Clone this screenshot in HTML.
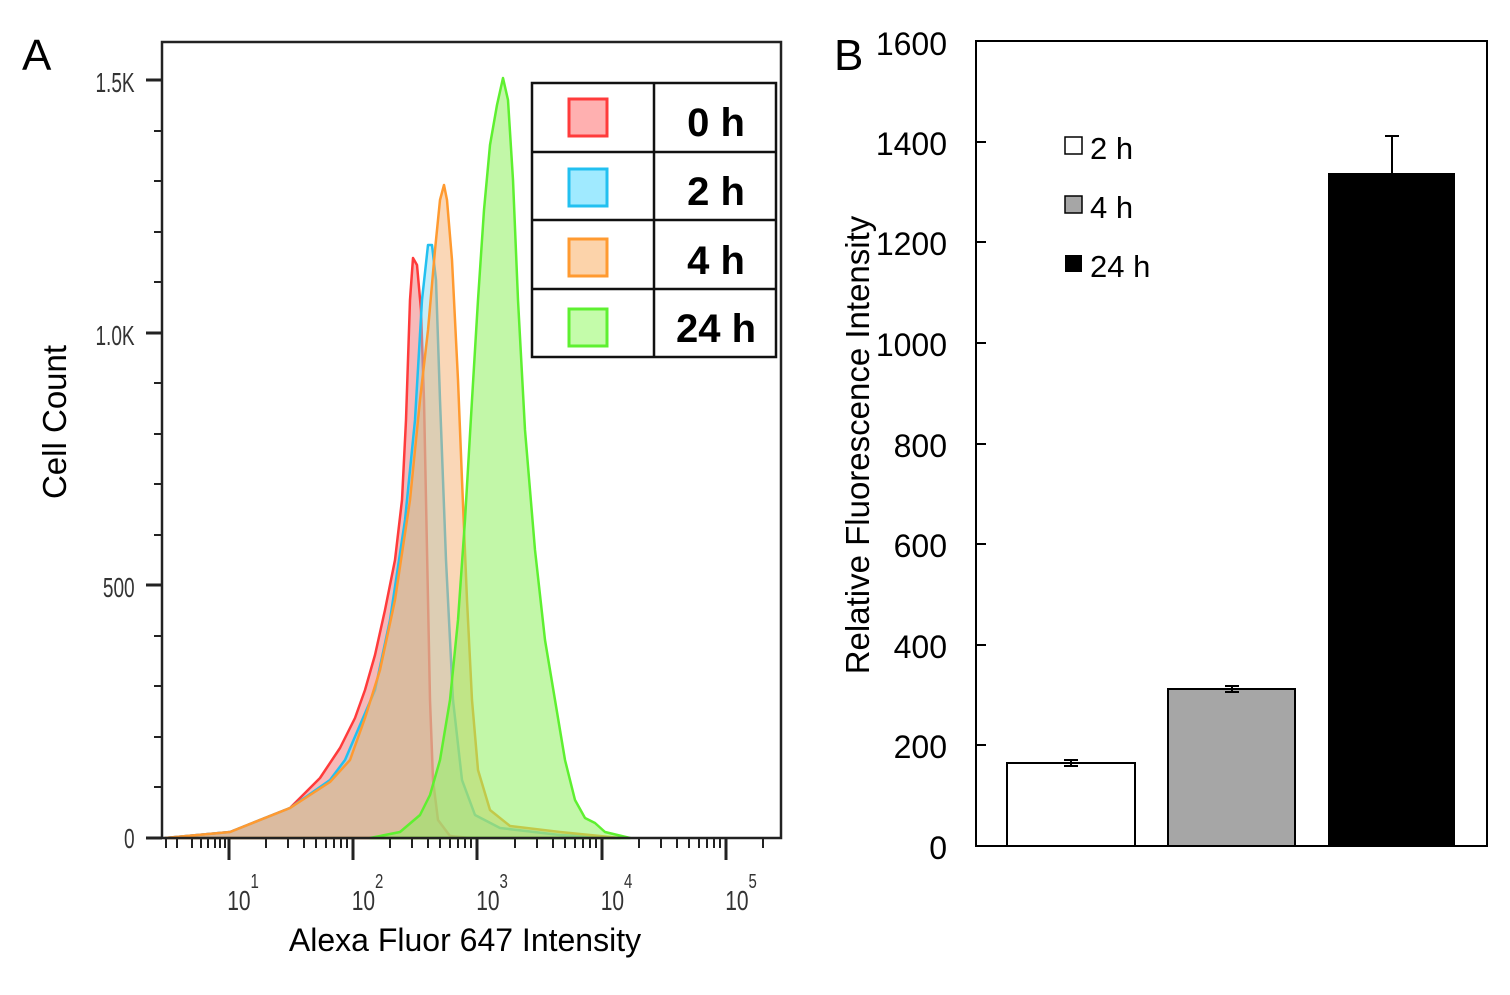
<!DOCTYPE html><html><head><style>body{margin:0;background:#fff}</style></head><body>
<svg width="1510" height="990" xmlns="http://www.w3.org/2000/svg" font-family="Liberation Sans, sans-serif">
<rect width="1510" height="990" fill="#fff"/>
<text x="22" y="70" font-size="44">A</text>
<text x="834" y="70" font-size="44">B</text>
<g stroke-width="2.5" stroke-linejoin="round">
<polygon fill="#f08080" fill-opacity="0.55" stroke="#ff3b3b" points="165,838 230,832 290,808 320,778 340,748 355,718 365,690 375,655 385,610 395,560 402,500 406,420 410,300 413,258 417,265 421,310 424,400 427,550 430,700 433,780 438,820 450,836 470,838"/>
<polygon fill="#7fd8f0" fill-opacity="0.45" stroke="#22c0f0" points="165,838 230,832 290,808 330,780 345,760 360,725 375,690 390,620 405,520 415,420 422,300 428,245 432,245 436,280 440,400 446,560 453,700 462,780 475,815 500,828 560,835 620,838"/>
<polygon fill="#f5b070" fill-opacity="0.5" stroke="#ff9a30" points="165,838 230,832 290,808 330,782 350,760 365,718 380,670 395,600 410,500 420,400 428,330 435,250 440,200 444,185 447,200 452,260 458,380 462,480 467,600 472,700 478,770 490,810 510,826 560,832 620,838"/>
<polygon fill="#90f060" fill-opacity="0.55" stroke="#5ef030" points="370,838 400,832 420,815 430,795 440,760 450,700 458,620 465,520 472,400 478,300 484,210 490,145 497,105 503,78 508,100 513,180 518,300 525,430 535,550 545,640 555,700 565,760 575,800 585,818 595,823 605,832 630,838"/>
</g>
<rect x="162" y="42" width="619" height="796" fill="none" stroke="#222" stroke-width="2.5"/>
<g stroke="#222" stroke-width="3">
<line x1="146" y1="838" x2="162" y2="838"/><line x1="146" y1="585" x2="162" y2="585"/><line x1="146" y1="333" x2="162" y2="333"/><line x1="146" y1="80" x2="162" y2="80"/>
</g>
<g stroke="#222" stroke-width="2">
<line x1="154" y1="787" x2="162" y2="787"/><line x1="154" y1="737" x2="162" y2="737"/><line x1="154" y1="686" x2="162" y2="686"/><line x1="154" y1="636" x2="162" y2="636"/>
<line x1="154" y1="535" x2="162" y2="535"/><line x1="154" y1="484" x2="162" y2="484"/><line x1="154" y1="434" x2="162" y2="434"/><line x1="154" y1="383" x2="162" y2="383"/>
<line x1="154" y1="282" x2="162" y2="282"/><line x1="154" y1="232" x2="162" y2="232"/><line x1="154" y1="181" x2="162" y2="181"/><line x1="154" y1="131" x2="162" y2="131"/>
</g>
<g stroke="#222" stroke-width="3">
<line x1="229" y1="838" x2="229" y2="860"/><line x1="353" y1="838" x2="353" y2="860"/><line x1="477" y1="838" x2="477" y2="860"/><line x1="602" y1="838" x2="602" y2="860"/><line x1="726" y1="838" x2="726" y2="860"/>
</g>
<g stroke="#222" stroke-width="2">
<line x1="166" y1="838" x2="166" y2="848"/><line x1="177" y1="838" x2="177" y2="848"/><line x1="192" y1="838" x2="192" y2="848"/><line x1="201" y1="838" x2="201" y2="848"/><line x1="208" y1="838" x2="208" y2="848"/><line x1="215" y1="838" x2="215" y2="848"/><line x1="220" y1="838" x2="220" y2="848"/><line x1="225" y1="838" x2="225" y2="848"/>
<line x1="266" y1="838" x2="266" y2="848"/><line x1="288" y1="838" x2="288" y2="848"/><line x1="304" y1="838" x2="304" y2="848"/><line x1="316" y1="838" x2="316" y2="848"/><line x1="326" y1="838" x2="326" y2="848"/><line x1="334" y1="838" x2="334" y2="848"/><line x1="341" y1="838" x2="341" y2="848"/><line x1="347" y1="838" x2="347" y2="848"/>
<line x1="390" y1="838" x2="390" y2="848"/><line x1="412" y1="838" x2="412" y2="848"/><line x1="428" y1="838" x2="428" y2="848"/><line x1="440" y1="838" x2="440" y2="848"/><line x1="450" y1="838" x2="450" y2="848"/><line x1="458" y1="838" x2="458" y2="848"/><line x1="465" y1="838" x2="465" y2="848"/><line x1="471" y1="838" x2="471" y2="848"/>
<line x1="515" y1="838" x2="515" y2="848"/><line x1="537" y1="838" x2="537" y2="848"/><line x1="553" y1="838" x2="553" y2="848"/><line x1="565" y1="838" x2="565" y2="848"/><line x1="575" y1="838" x2="575" y2="848"/><line x1="583" y1="838" x2="583" y2="848"/><line x1="590" y1="838" x2="590" y2="848"/><line x1="596" y1="838" x2="596" y2="848"/>
<line x1="639" y1="838" x2="639" y2="848"/><line x1="661" y1="838" x2="661" y2="848"/><line x1="677" y1="838" x2="677" y2="848"/><line x1="689" y1="838" x2="689" y2="848"/><line x1="699" y1="838" x2="699" y2="848"/><line x1="707" y1="838" x2="707" y2="848"/><line x1="714" y1="838" x2="714" y2="848"/><line x1="720" y1="838" x2="720" y2="848"/>
<line x1="763" y1="838" x2="763" y2="848"/>
</g>
<g font-size="28" fill="#333" text-anchor="end" transform="scale(0.68,1)">
<text x="198" y="92">1.5K</text><text x="198" y="345">1.0K</text><text x="198" y="597">500</text><text x="198" y="848">0</text>
</g>
<g font-size="28" fill="#333" transform="scale(0.75,1)">
<text x="303" y="910">10</text><text x="334" y="888" font-size="20">1</text>
<text x="469" y="910">10</text><text x="500" y="888" font-size="20">2</text>
<text x="635" y="910">10</text><text x="666" y="888" font-size="20">3</text>
<text x="801" y="910">10</text><text x="832" y="888" font-size="20">4</text>
<text x="967" y="910">10</text><text x="998" y="888" font-size="20">5</text>
</g>
<text x="465" y="951" font-size="32" text-anchor="middle">Alexa Fluor 647 Intensity</text>
<text transform="translate(66,422) rotate(-90)" font-size="33" text-anchor="middle">Cell Count</text>
<rect x="532" y="83" width="244" height="274" fill="#fff" stroke="#111" stroke-width="2.5"/>
<g stroke="#111" stroke-width="2.5"><line x1="654" y1="83" x2="654" y2="357"/><line x1="532" y1="152" x2="776" y2="152"/><line x1="532" y1="220" x2="776" y2="220"/><line x1="532" y1="289" x2="776" y2="289"/></g>
<rect x="569" y="99" width="38" height="37" fill="#ffb0b0" stroke="#ff3b3b" stroke-width="3"/>
<rect x="569" y="169" width="38" height="37" fill="#a0eaff" stroke="#22c0f0" stroke-width="3"/>
<rect x="569" y="239" width="38" height="37" fill="#fcd3aa" stroke="#ff9a30" stroke-width="3"/>
<rect x="569" y="309" width="38" height="37" fill="#c4fcaa" stroke="#5ef030" stroke-width="3"/>
<g font-size="40" font-weight="bold" text-anchor="middle"><text x="716" y="136">0 h</text><text x="716" y="205">2 h</text><text x="716" y="274">4 h</text><text x="716" y="342">24 h</text></g>
<rect x="1007" y="763" width="128" height="83" fill="#fff" stroke="#000" stroke-width="2"/>
<rect x="1168" y="689" width="127" height="157" fill="#a6a6a6" stroke="#000" stroke-width="2"/>
<rect x="1328" y="173" width="127" height="673" fill="#000"/>
<g stroke="#000" stroke-width="2">
<line x1="1071" y1="760" x2="1071" y2="766"/><line x1="1064" y1="760" x2="1078" y2="760"/><line x1="1064" y1="766" x2="1078" y2="766"/>
<line x1="1232" y1="686" x2="1232" y2="692"/><line x1="1225" y1="686" x2="1239" y2="686"/><line x1="1225" y1="692" x2="1239" y2="692"/>
<line x1="1392" y1="136" x2="1392" y2="173"/><line x1="1385" y1="136" x2="1399" y2="136"/>
</g>
<rect x="976" y="41" width="511" height="805" fill="none" stroke="#000" stroke-width="2"/>
<g stroke="#000" stroke-width="2">
<line x1="976" y1="142" x2="986" y2="142"/><line x1="976" y1="242" x2="986" y2="242"/><line x1="976" y1="343" x2="986" y2="343"/><line x1="976" y1="444" x2="986" y2="444"/><line x1="976" y1="544" x2="986" y2="544"/><line x1="976" y1="645" x2="986" y2="645"/><line x1="976" y1="745" x2="986" y2="745"/>
</g>
<g font-size="32" text-anchor="end">
<text x="947" y="55">1600</text><text x="947" y="155">1400</text><text x="947" y="255">1200</text><text x="947" y="356">1000</text><text x="947" y="457">800</text><text x="947" y="557">600</text><text x="947" y="658">400</text><text x="947" y="758">200</text><text x="947" y="859">0</text>
</g>
<text transform="translate(869,445) rotate(-90)" font-size="33" text-anchor="middle">Relative Fluorescence Intensity</text>
<rect x="1065" y="137" width="17" height="17" fill="#fff" stroke="#000" stroke-width="1.5"/>
<rect x="1065" y="196" width="17" height="17" fill="#a6a6a6" stroke="#000" stroke-width="1.5"/>
<rect x="1065" y="255" width="17" height="17" fill="#000"/>
<g font-size="31"><text x="1090" y="159">2 h</text><text x="1090" y="218">4 h</text><text x="1090" y="277">24 h</text></g>
</svg>
</body></html>
